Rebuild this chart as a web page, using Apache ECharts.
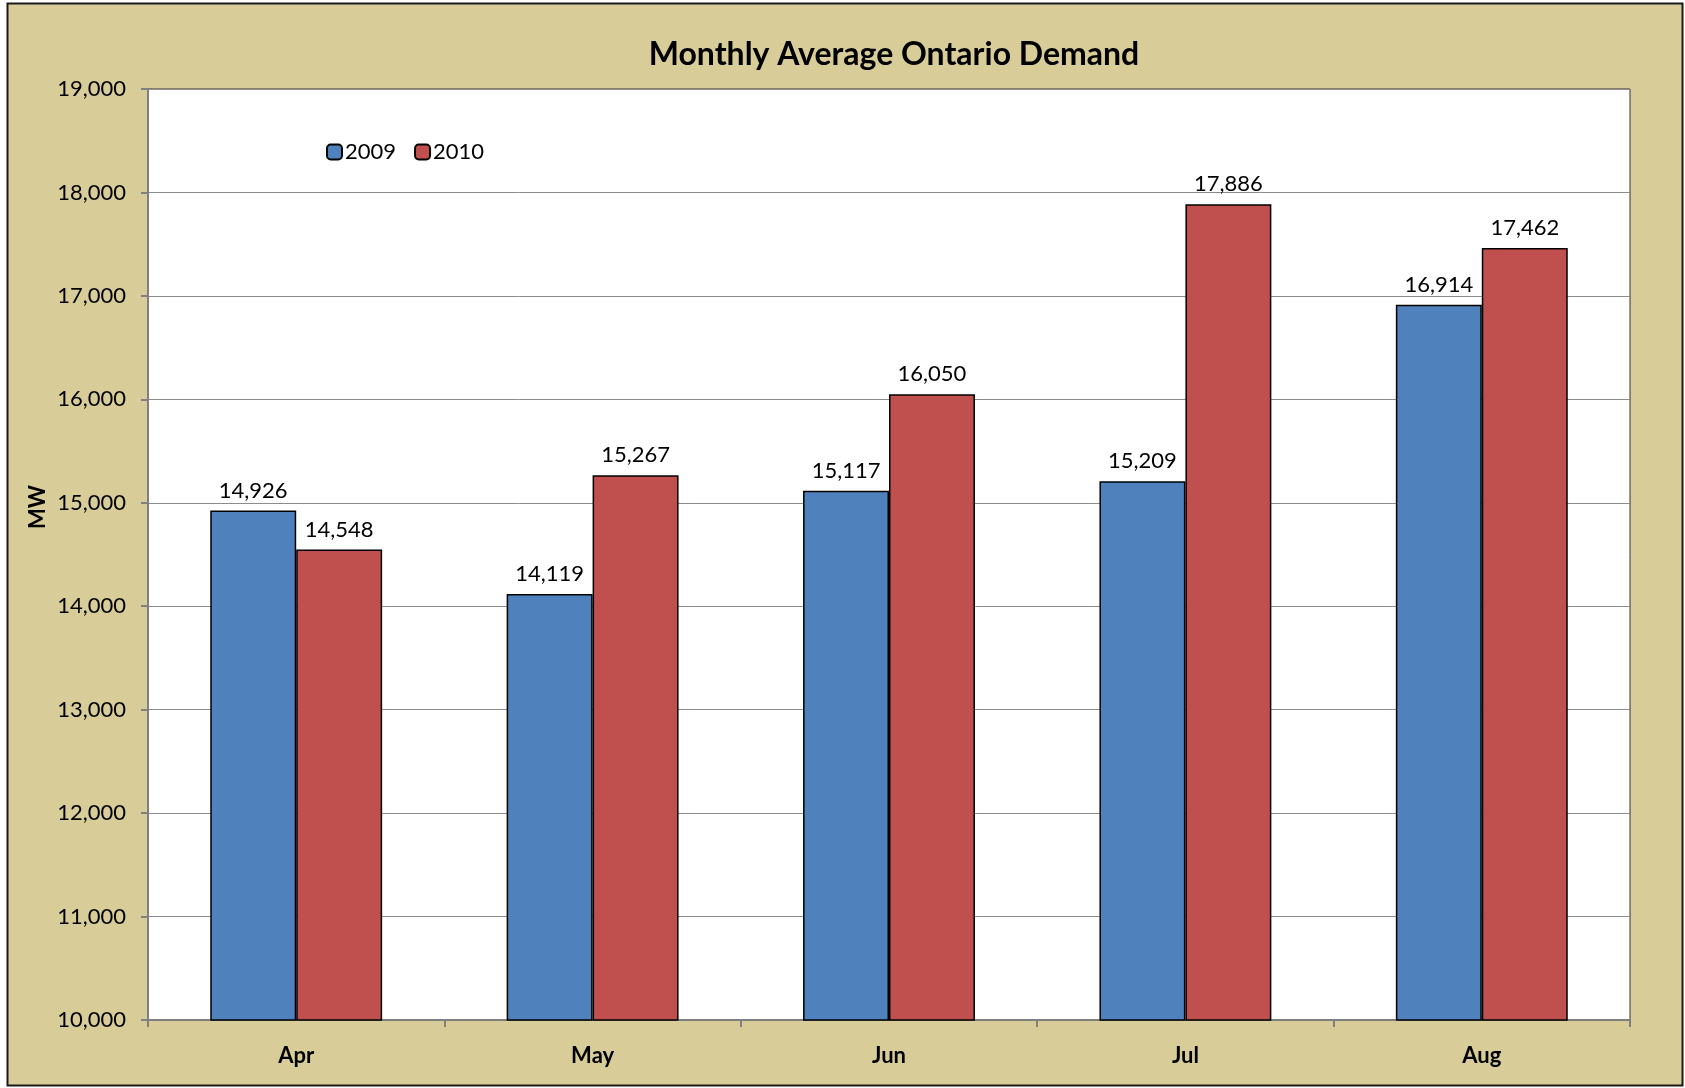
<!DOCTYPE html>
<html>
<head>
<meta charset="utf-8">
<script src="https://cdn.jsdelivr.net/npm/echarts@6/dist/echarts.min.js"></script>
<style>
  html, body { margin: 0; padding: 0; background: #fff; }
  #chart { width: 1685px; height: 1088px; }
</style>
</head>
<body>
<div id="chart"></div>
<script>
  var months = ['Apr', 'May', 'Jun', 'Jul', 'Aug']
  var demand2009 = [14926, 14119, 15117, 15209, 16914]
  var demand2010 = [14548, 15267, 16050, 17886, 17462]
  var yMin = 10000
  var yMax = 19000
  var yStep = 1000

  var font = 'Lato'
  var fmt = function (v) { return Number(v).toLocaleString('en-US') }

  var chart = echarts.init(document.getElementById('chart'))
  chart.setOption({
    backgroundColor: '#fff',
    textStyle: { fontFamily: font },
    graphic: [
      {
        type: 'rect',
        z: -10,
        shape: { x: 7.5, y: 3.5, width: 1675, height: 1082 },
        style: { fill: '#d8cc98', stroke: '#1a1a1a', lineWidth: 2 }
      },
      {
        // y axis name, sits a bit above the plot middle like the original
        type: 'text',
        x: 38,
        y: 507,
        rotation: Math.PI / 2,
        style: {
          text: 'MW',
          font: 'bold 22px Lato',
          fill: '#000',
          align: 'center',
          verticalAlign: 'middle'
        }
      }
    ],
    title: {
      text: 'Monthly Average Ontario Demand',
      left: 889,
      textAlign: 'center',
      top: 34,
      textStyle: { fontFamily: font, fontSize: 32, fontWeight: 'bold', color: '#000' }
    },
    legend: {
      left: 321,
      top: 136,
      itemWidth: 15,
      itemHeight: 15,
      itemGap: 18,
      textStyle: { fontFamily: font, fontSize: 22, color: '#000', padding: [0, 0, 0, -2] },
      data: ['2009', '2010']
    },
    grid: {
      left: 148,
      top: 89,
      right: 55,
      bottom: 68,
      show: true,
      backgroundColor: '#fff',
      borderColor: '#333',
      borderWidth: 1
    },
    xAxis: {
      type: 'category',
      data: months,
      axisLine: { lineStyle: { color: '#808080', width: 2 } },
      axisTick: { show: true, length: 7, lineStyle: { color: '#808080', width: 2 } },
      axisLabel: { fontFamily: font, fontSize: 22, fontWeight: 'bold', color: '#000', margin: 25 }
    },
    yAxis: {
      type: 'value',
      min: yMin,
      max: yMax,
      interval: yStep,
      axisLine: { show: true, lineStyle: { color: '#808080', width: 2 } },
      axisTick: { show: true, length: 7, lineStyle: { color: '#808080', width: 2 } },
      splitLine: { lineStyle: { color: '#8c8c8c', width: 1 } },
      axisLabel: { fontFamily: font, fontSize: 22, color: '#000', margin: 22, formatter: fmt }
    },
    series: [
      {
        name: '2009',
        type: 'bar',
        data: demand2009,
        barGap: '0%',
        barCategoryGap: '42%',
        itemStyle: { color: '#4f81bd', borderColor: '#000', borderWidth: 1.5 },
        label: { show: true, position: 'top', distance: 9, fontFamily: font, fontSize: 22, color: '#000', formatter: function (p) { return fmt(p.value) } }
      },
      {
        name: '2010',
        type: 'bar',
        data: demand2010,
        itemStyle: { color: '#c0504d', borderColor: '#000', borderWidth: 1.5 },
        label: { show: true, position: 'top', distance: 9, fontFamily: font, fontSize: 22, color: '#000', formatter: function (p) { return fmt(p.value) } }
      }
    ]
  })
</script>
</body>
</html>
